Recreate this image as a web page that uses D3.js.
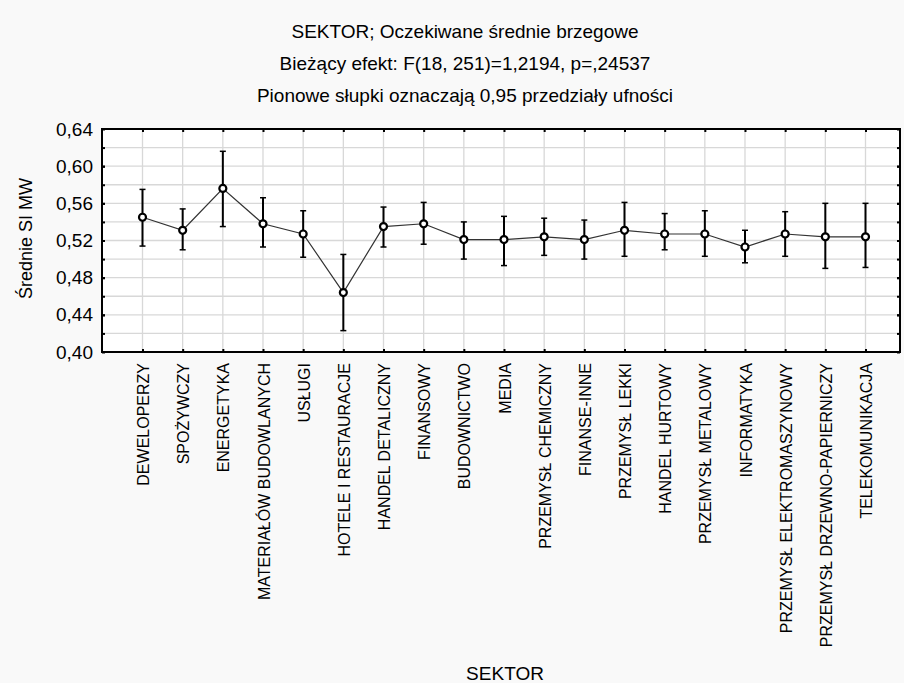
<!DOCTYPE html>
<html>
<head>
<meta charset="utf-8">
<script src="https://cdn.jsdelivr.net/npm/d3@7/dist/d3.min.js"></script>
<style>
  html, body { margin: 0; padding: 0; background: #f9f9f9; }
  svg { display: block; font-family: "Liberation Sans", Arial, sans-serif; }
</style>
</head>
<body>
<svg id="chart" width="904" height="683"></svg>
<script>
const categories = [
  "DEWELOPERZY", "SPOŻYWCZY", "ENERGETYKA", "MATERIAŁÓW BUDOWLANYCH", "USŁUGI",
  "HOTELE I RESTAURACJE", "HANDEL DETALICZNY", "FINANSOWY", "BUDOWNICTWO", "MEDIA",
  "PRZEMYSŁ CHEMICZNY", "FINANSE-INNE", "PRZEMYSŁ LEKKI", "HANDEL HURTOWY",
  "PRZEMYSŁ METALOWY", "INFORMATYKA", "PRZEMYSŁ ELEKTROMASZYNOWY",
  "PRZEMYSŁ DRZEWNO-PAPIERNICZY", "TELEKOMUNIKACJA"
];
const means = [0.545, 0.531, 0.576, 0.538, 0.527, 0.464, 0.535, 0.538, 0.521, 0.521,
               0.524, 0.521, 0.531, 0.527, 0.527, 0.513, 0.527, 0.524, 0.524];
const upper = [0.575, 0.554, 0.616, 0.566, 0.552, 0.505, 0.556, 0.561, 0.540, 0.546,
               0.544, 0.542, 0.561, 0.549, 0.552, 0.531, 0.551, 0.560, 0.560];
const lower = [0.514, 0.510, 0.535, 0.513, 0.502, 0.423, 0.513, 0.516, 0.500, 0.493,
               0.504, 0.500, 0.503, 0.510, 0.503, 0.496, 0.503, 0.490, 0.491];
const yTicks = [0.40, 0.44, 0.48, 0.52, 0.56, 0.60, 0.64];
const yGrid = [0.42, 0.44, 0.46, 0.48, 0.50, 0.52, 0.54, 0.56, 0.58, 0.60, 0.62];
const titleLines = [
  "SEKTOR; Oczekiwane średnie brzegowe",
  "Bieżący efekt: F(18, 251)=1,2194, p=,24537",
  "Pionowe słupki oznaczają 0,95 przedziały ufności"
];
const xTitle = "SEKTOR";
const yTitle = "Średnie SI MW";

const data = categories.map((c, i) => ({ c, m: means[i], lo: lower[i], hi: upper[i] }));

const svg = d3.select("#chart");
const plot = { left: 102, right: 900, top: 129, bottom: 352 };

const x = d3.scalePoint().domain(categories).range([plot.left + 40.5, plot.right - 34.5]);
const y = d3.scaleLinear().domain([0.40, 0.64]).range([plot.bottom, plot.top]);
const loc = d3.formatLocale({ decimal: ",", thousands: " ", grouping: [3], currency: ["", ""] });
const fmt = loc.format(".2f");

// plot background
svg.append("rect").attr("x", plot.left).attr("y", plot.top)
  .attr("width", plot.right - plot.left).attr("height", plot.bottom - plot.top)
  .attr("fill", "#ffffff");

// grid
const grid = svg.append("g");
grid.selectAll("line.h").data(yGrid).enter().append("line")
  .attr("x1", plot.left).attr("x2", plot.right)
  .attr("y1", d => y(d)).attr("y2", d => y(d))
  .attr("stroke", "#d8d8d8").attr("stroke-width", 1.3);
grid.selectAll("line.v").data(categories).enter().append("line")
  .attr("x1", d => x(d)).attr("x2", d => x(d))
  .attr("y1", plot.top).attr("y2", plot.bottom)
  .attr("stroke", "#d8d8d8").attr("stroke-width", 1.3);

// axes (ticks inside)
const yAxisL = d3.axisLeft(y).tickValues(yGrid.concat(yTicks)).tickSize(-3).tickFormat("");
const yAxisR = d3.axisRight(y).tickValues(yGrid.concat(yTicks)).tickSize(-3).tickFormat("");
const xAxisB = d3.axisBottom(x).tickSize(-3).tickFormat("");
const xAxisT = d3.axisTop(x).tickSize(-3).tickFormat("");
function styleAxis(g) {
  g.select(".domain").remove();
  g.selectAll(".tick line").attr("stroke", "#000").attr("stroke-width", 2);
}
svg.append("g").attr("transform", `translate(${plot.left},0)`).call(yAxisL).call(styleAxis);
svg.append("g").attr("transform", `translate(${plot.right},0)`).call(yAxisR).call(styleAxis);
svg.append("g").attr("transform", `translate(0,${plot.bottom})`).call(xAxisB).call(styleAxis);
svg.append("g").attr("transform", `translate(0,${plot.top})`).call(xAxisT).call(styleAxis);

// y tick labels
const yLab = d3.axisLeft(y).tickValues(yTicks).tickSize(0).tickPadding(9).tickFormat(fmt);
svg.append("g").attr("transform", `translate(${plot.left},0)`).call(yLab)
  .call(g => g.select(".domain").remove())
  .call(g => g.selectAll("text").attr("font-size", 19).attr("fill", "#000")
    .attr("font-family", "'Liberation Sans', Arial, sans-serif"));

// x tick labels rotated
const xLab = d3.axisBottom(x).tickSize(0).tickPadding(0);
svg.append("g").attr("transform", `translate(0,${plot.bottom})`).call(xLab)
  .call(g => g.select(".domain").remove())
  .call(g => g.selectAll("text")
    .attr("font-size", 16).attr("fill", "#000")
    .attr("font-family", "'Liberation Sans', Arial, sans-serif")
    .attr("text-anchor", "end")
    .attr("dy", null).attr("y", 0)
    .attr("transform", "translate(6,11) rotate(-90)"));

// border
svg.append("rect").attr("x", plot.left).attr("y", plot.top)
  .attr("width", plot.right - plot.left).attr("height", plot.bottom - plot.top)
  .attr("fill", "none").attr("stroke", "#000").attr("stroke-width", 2);

// connecting line
svg.append("path").datum(data)
  .attr("d", d3.line().x(d => x(d.c)).y(d => y(d.m)))
  .attr("fill", "none").attr("stroke", "#333").attr("stroke-width", 1.2);

// error bars
const eb = svg.append("g").selectAll("g").data(data).enter().append("g");
eb.append("line").attr("x1", d => x(d.c)).attr("x2", d => x(d.c))
  .attr("y1", d => y(d.lo)).attr("y2", d => y(d.hi))
  .attr("stroke", "#000").attr("stroke-width", 2);
eb.append("line").attr("x1", d => x(d.c) - 3).attr("x2", d => x(d.c) + 3)
  .attr("y1", d => y(d.hi)).attr("y2", d => y(d.hi))
  .attr("stroke", "#000").attr("stroke-width", 1.5);
eb.append("line").attr("x1", d => x(d.c) - 3).attr("x2", d => x(d.c) + 3)
  .attr("y1", d => y(d.lo)).attr("y2", d => y(d.lo))
  .attr("stroke", "#000").attr("stroke-width", 1.5);
eb.append("circle").attr("cx", d => x(d.c)).attr("cy", d => y(d.m)).attr("r", 3.5)
  .attr("fill", "#fff").attr("stroke", "#000").attr("stroke-width", 2.2);

// titles
svg.append("g").selectAll("text").data(titleLines).enter().append("text")
  .attr("x", 465).attr("y", (d, i) => 38 + i * 32)
  .attr("text-anchor", "middle").attr("font-size", 19).attr("fill", "#000")
  .text(d => d);

svg.append("text").attr("x", 505).attr("y", 680).attr("text-anchor", "middle")
  .attr("font-size", 19).attr("fill", "#000").text(xTitle);

svg.append("text").attr("transform", `translate(32,${(plot.top + plot.bottom) / 2 - 2}) rotate(-90)`)
  .attr("text-anchor", "middle").attr("font-size", 18).attr("fill", "#000").text(yTitle);
</script>
</body>
</html>
